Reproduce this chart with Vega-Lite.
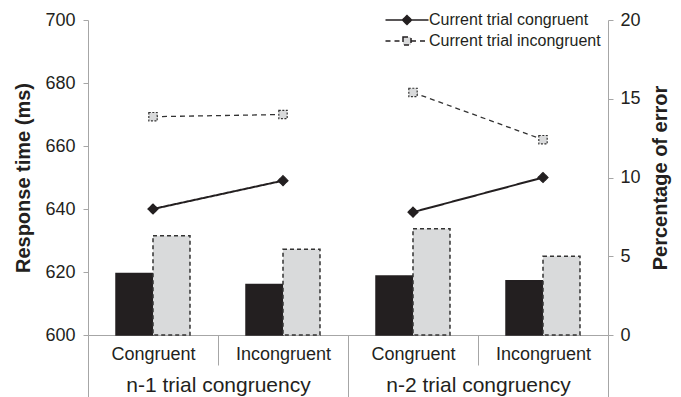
{
  "$schema": "https://vega.github.io/schema/vega-lite/v6.json",
  "width": 520,
  "height": 315,
  "autosize": {"type": "none"},
  "padding": {"left": 88, "top": 20, "right": 73, "bottom": 62},
  "config": {
    "font": "Liberation Sans",
    "view": {"stroke": null},
    "axis": {
      "grid": false,
      "domainColor": "#a6a6a6",
      "tickColor": "#a6a6a6",
      "labelColor": "#231f20",
      "titleColor": "#231f20",
      "labelFontSize": 18,
      "labelLimit": 0,
      "labelFont": "Liberation Sans",
      "titleFont": "Liberation Sans"
    }
  },
  "data": {
    "values": [
      {"cond": "n-1|Congruent", "group": "n-1 trial congruency", "series": "Current trial congruent", "err": 3.9, "rt": 640},
      {"cond": "n-1|Congruent", "group": "n-1 trial congruency", "series": "Current trial incongruent", "err": 6.3, "rt": 669.3},
      {"cond": "n-1|Incongruent", "group": "n-1 trial congruency", "series": "Current trial congruent", "err": 3.2, "rt": 649},
      {"cond": "n-1|Incongruent", "group": "n-1 trial congruency", "series": "Current trial incongruent", "err": 5.45, "rt": 670},
      {"cond": "n-2|Congruent", "group": "n-2 trial congruency", "series": "Current trial congruent", "err": 3.75, "rt": 639},
      {"cond": "n-2|Congruent", "group": "n-2 trial congruency", "series": "Current trial incongruent", "err": 6.75, "rt": 677},
      {"cond": "n-2|Incongruent", "group": "n-2 trial congruency", "series": "Current trial congruent", "err": 3.45, "rt": 650},
      {"cond": "n-2|Incongruent", "group": "n-2 trial congruency", "series": "Current trial incongruent", "err": 5.0, "rt": 662}
    ]
  },
  "layer": [
    {
      "mark": {"type": "bar", "strokeWidth": 1.5},
      "encoding": {
        "x": {
          "field": "cond", "type": "nominal", "sort": null,
          "scale": {"paddingInner": 0, "paddingOuter": 0},
          "axis": {
            "orient": "bottom", "title": null, "tickBand": "extent", "tickSize": 30,
            "labelAngle": 0, "labelBaseline": "middle", "labelPadding": -11,
            "labelFontSize": 18, "labelExpr": "split(datum.label, '|')[1]"
          }
        },
        "xOffset": {
          "field": "series", "type": "nominal", "sort": null,
          "scale": {"paddingInner": 0, "paddingOuter": 0.757}
        },
        "y": {
          "field": "err", "type": "quantitative",
          "scale": {"domain": [0, 20], "nice": false},
          "axis": {
            "orient": "right", "values": [0, 5, 10, 15, 20], "title": "Percentage of error",
            "titleFontSize": 20, "titleFontWeight": "bold", "titleAngle": 270, "titleBaseline": "top",
            "tickSize": 5, "labelPadding": 7, "titlePadding": 10
          }
        },
        "fill": {"field": "series", "type": "nominal", "sort": null, "scale": {"range": ["#231f20", "#d9dadb"]}, "legend": null},
        "stroke": {"field": "series", "type": "nominal", "sort": null, "scale": {"range": ["#231f20", "#333333"]}, "legend": null},
        "strokeDash": {"condition": {"test": "datum.series === 'Current trial incongruent'", "value": [4, 3]}, "value": [1, 0]}
      }
    },
    {
      "mark": {"type": "line"},
      "encoding": {
        "x": {"field": "cond", "type": "nominal", "sort": null, "scale": {"paddingInner": 0, "paddingOuter": 0}, "axis": null},
        "y": {
          "field": "rt", "type": "quantitative",
          "scale": {"domain": [600, 700], "nice": false},
          "axis": {
            "orient": "left", "values": [600, 620, 640, 660, 680, 700], "title": "Response time (ms)",
            "titleFontSize": 20, "titleFontWeight": "bold",
            "tickSize": 5, "labelPadding": 8, "titlePadding": 11
          }
        },
        "detail": {"field": "group"},
        "stroke": {"field": "series", "type": "nominal", "sort": null, "scale": {"range": ["#231f20", "#333333"]}, "legend": null},
        "strokeWidth": {"condition": {"test": "datum.series === 'Current trial congruent'", "value": 2}, "value": 1.3},
        "strokeDash": {
          "field": "series", "type": "nominal", "sort": null,
          "scale": {"range": [[1, 0], [5, 4]]},
          "legend": {
            "title": null, "orient": "none", "legendX": 311, "legendY": -8,
            "labelFontSize": 16, "labelColor": "#231f20", "labelFont": "Liberation Sans", "labelLimit": 0,
            "symbolSize": 100, "symbolStrokeWidth": 1.5, "labelOffset": 14, "rowPadding": 5,
            "encode": {
              "symbols": {
                "update": {
                  "shape": {"signal": "datum.value === 'Current trial congruent' ? 'M-4.3,0H4.3M0,-0.9L0.9,0L0,0.9L-0.9,0Z' : 'M-4.3,0H-0.8M0.8,0H4.3M-0.8,-0.8H0.8V0.8H-0.8Z'"},
                  "fill": {"signal": "datum.value === 'Current trial congruent' ? '#231f20' : '#d9dadb'"},
                  "stroke": {"value": "#231f20"}
                }
              }
            }
          }
        }
      }
    },
    {
      "mark": {"type": "point", "filled": true, "strokeWidth": 1.2, "opacity": 1},
      "encoding": {
        "x": {"field": "cond", "type": "nominal", "sort": null, "scale": {"paddingInner": 0, "paddingOuter": 0}, "axis": null},
        "y": {"field": "rt", "type": "quantitative", "scale": {"domain": [600, 700], "nice": false}, "axis": null},
        "shape": {"field": "series", "type": "nominal", "sort": null, "scale": {"range": ["diamond", "square"]}, "legend": null},
        "size": {"condition": {"test": "datum.series === 'Current trial congruent'", "value": 100}, "value": 70},
        "fill": {"field": "series", "type": "nominal", "sort": null, "scale": {"range": ["#231f20", "#d9dadb"]}, "legend": null},
        "stroke": {"field": "series", "type": "nominal", "sort": null, "scale": {"range": ["#231f20", "#333333"]}, "legend": null},
        "strokeDash": {"condition": {"test": "datum.series === 'Current trial incongruent'", "value": [2, 1.5]}, "value": [1, 0]}
      }
    },
    {
      "mark": {"type": "text"},
      "encoding": {
        "x": {
          "field": "group", "type": "nominal", "sort": null,
          "scale": {"paddingInner": 0, "paddingOuter": 0},
          "axis": {
            "orient": "bottom", "title": null, "domain": false, "tickBand": "extent", "tickSize": 62,
            "labelAngle": 0, "labelBaseline": "middle", "labelPadding": -12, "labelFontSize": 21
          }
        }
      }
    }
  ],
  "resolve": {"scale": {"x": "independent", "y": "independent"}}
}
